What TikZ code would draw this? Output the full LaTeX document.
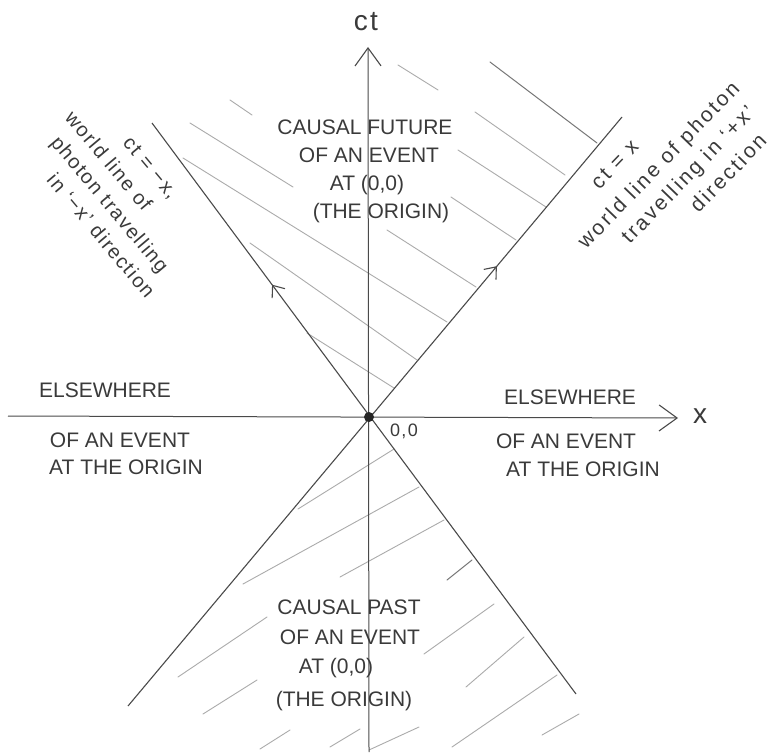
\documentclass[tikz,border=0pt]{standalone}
\usepackage{fontspec}
\setmainfont{Liberation Sans}
\newfontfamily\handfont[LetterSpace=8]{Liberation Sans}
\newfontfamily\handwide[LetterSpace=12]{Liberation Sans}
\usetikzlibrary{arrows.meta,decorations.markings}
\definecolor{pencil}{HTML}{4A4A4A}
\definecolor{hatchgray}{HTML}{ABABAB}
\definecolor{hatchdk}{HTML}{777777}
\definecolor{ink}{HTML}{3A3A3A}
\begin{document}
\begin{tikzpicture}[x=1pt,y=-1pt,
  axisline/.style={draw=pencil, line width=1pt},
  coneline/.style={draw=pencil, line width=1.1pt},
  hatchline/.style={draw=hatchgray, line width=0.9pt, line cap=round},
  hatchdark/.style={draw=hatchdk, line width=1pt, line cap=round},
  caps/.style={text=ink, font=\fontsize{21}{25}\selectfont, inner sep=0pt},
  hand/.style={text=ink, font=\handfont\fontsize{20}{24}\selectfont, inner sep=0pt, anchor=base west},
  handr/.style={text=ink, font=\handwide\fontsize{21}{24}\selectfont, inner sep=0pt, anchor=base west},
  bigbarb/.style={-{Straight Barb[length=18pt, width=26pt, line width=1.1pt]}},
  midbarb/.style={postaction={decorate}, decoration={markings,
     mark=at position #1 with {\arrow{Straight Barb[length=10pt, width=16pt, line width=1.1pt]}}}}
]
\fill[white] (0,0) rectangle (775,752);
\useasboundingbox (0,0) rectangle (775,752);

% --- hatching: causal future
\draw[hatchline] (230,100) -- (252,115);
\draw[hatchline] (398,65) -- (438,90);
\draw[hatchdark] (490,62) -- (597,143);
\draw[hatchline] (475,112) -- (565,175);
\draw[hatchline] (190,123) -- (293,187);
\draw[hatchline] (458,150) -- (546,207);
\draw[hatchline] (451,197) -- (516,240);
\draw[hatchline] (183,158) -- (447,322);
\draw[hatchline] (387,230) -- (476,287);
\draw[hatchline] (250,243) -- (417,360);
\draw[hatchline] (307,333) -- (394,388);

% --- hatching: causal past
\draw[hatchline] (298,509) -- (394,449);
\draw[hatchline] (243,584) -- (419,487);
\draw[hatchline] (340,577) -- (444,520);
\draw[hatchdark] (447,580) -- (472,560);
\draw[hatchline] (178,677) -- (267,617);
\draw[hatchline] (203,714) -- (257,680);
\draw[hatchline] (260,749) -- (290,730);
\draw[hatchline] (330,747) -- (360,729);
\draw[hatchline] (424,654) -- (494,604);
\draw[hatchline] (466,687) -- (524,637);
\draw[hatchline] (369,750) -- (419,727);
\draw[hatchline] (452,747) -- (557,675);
\draw[hatchline] (542,735) -- (579,714);

% --- coordinates
\coordinate (O) at (369,417);
\coordinate (xl) at (8,416);
\coordinate (xr) at (678,418);
\coordinate (tb) at (369,752);
\coordinate (tt) at (368,47);
\coordinate (pa) at (128,706);
\coordinate (pb) at (622,117);
\coordinate (ma) at (576,694);
\coordinate (mb) at (152,123);

% --- axes
\draw[axisline, bigbarb] (xl) -- (xr);
\draw[axisline, bigbarb] (tb) -- (tt);

% --- light cone (photon world lines)
\draw[coneline, midbarb=0.747] (pa) -- (pb);
\draw[coneline, midbarb=0.717] (ma) -- (mb);

% --- origin
\fill[black!85] (O) circle (5pt);

% --- axis labels
\node[text=ink, inner sep=0pt, font=\handfont\fontsize{28}{30}\selectfont] (ctlabel) at (366,22) {ct};
\node[text=ink, inner sep=0pt, font=\handfont\fontsize{28}{30}\selectfont] (xlabel) at (700,416) {x};
\node[text=ink, inner sep=0pt, font=\handfont\fontsize{18}{20}\selectfont] (zero) at (404,431) {0,0};

% --- causal future
\node[caps] (fut1) at (365,127) {CAUSAL FUTURE};
\node[caps] (fut2) at (369,155) {OF AN EVENT};
\node[caps] (fut3) at (367,185) {AT (0,0)};
\node[caps] (fut4) at (381,213) {(THE ORIGIN)};

% --- causal past
\node[caps] (past1) at (349,607) {CAUSAL PAST};
\node[caps] (past2) at (350,637) {OF AN EVENT};
\node[caps] (past3) at (336,668) {AT (0,0)};
\node[caps] (past4) at (344,701) {(THE ORIGIN)};

% --- elsewhere
\node[caps] (elsl1) at (105,390) {ELSEWHERE};
\node[caps] (elsl2) at (120,440) {OF AN EVENT};
\node[caps] (elsl3) at (126,467) {AT THE ORIGIN};
\node[caps] (elsr1) at (570,397) {ELSEWHERE};
\node[caps] (elsr2) at (566,441) {OF AN EVENT};
\node[caps] (elsr3) at (583,469) {AT THE ORIGIN};

% --- photon world line notes (left, ct = -x)
\begin{scope}[shift={(64,118)}, rotate=-50, transform shape]
  \node[hand] (l1) at (57,-28) {ct = −x,};
  \node[hand] (l2) at (0,0) {world line of};
  \node[hand] (l3) at (10,27) {photon travelling};
  \node[hand] (l4) at (36,54) {in ‘−x’ direction};
\end{scope}

% --- photon world line notes (right, ct = x)
\begin{scope}[shift={(586,250)}, rotate=46, transform shape]
  \node[handr] (r1) at (52,-32) {ct = x};
  \node[handr] (r2) at (0,0) {world line of photon};
  \node[handr] (r3) at (34,28) {travelling in ‘+x’};
  \node[handr] (r4) at (104,56) {direction};
\end{scope}
\end{tikzpicture}
\end{document}
